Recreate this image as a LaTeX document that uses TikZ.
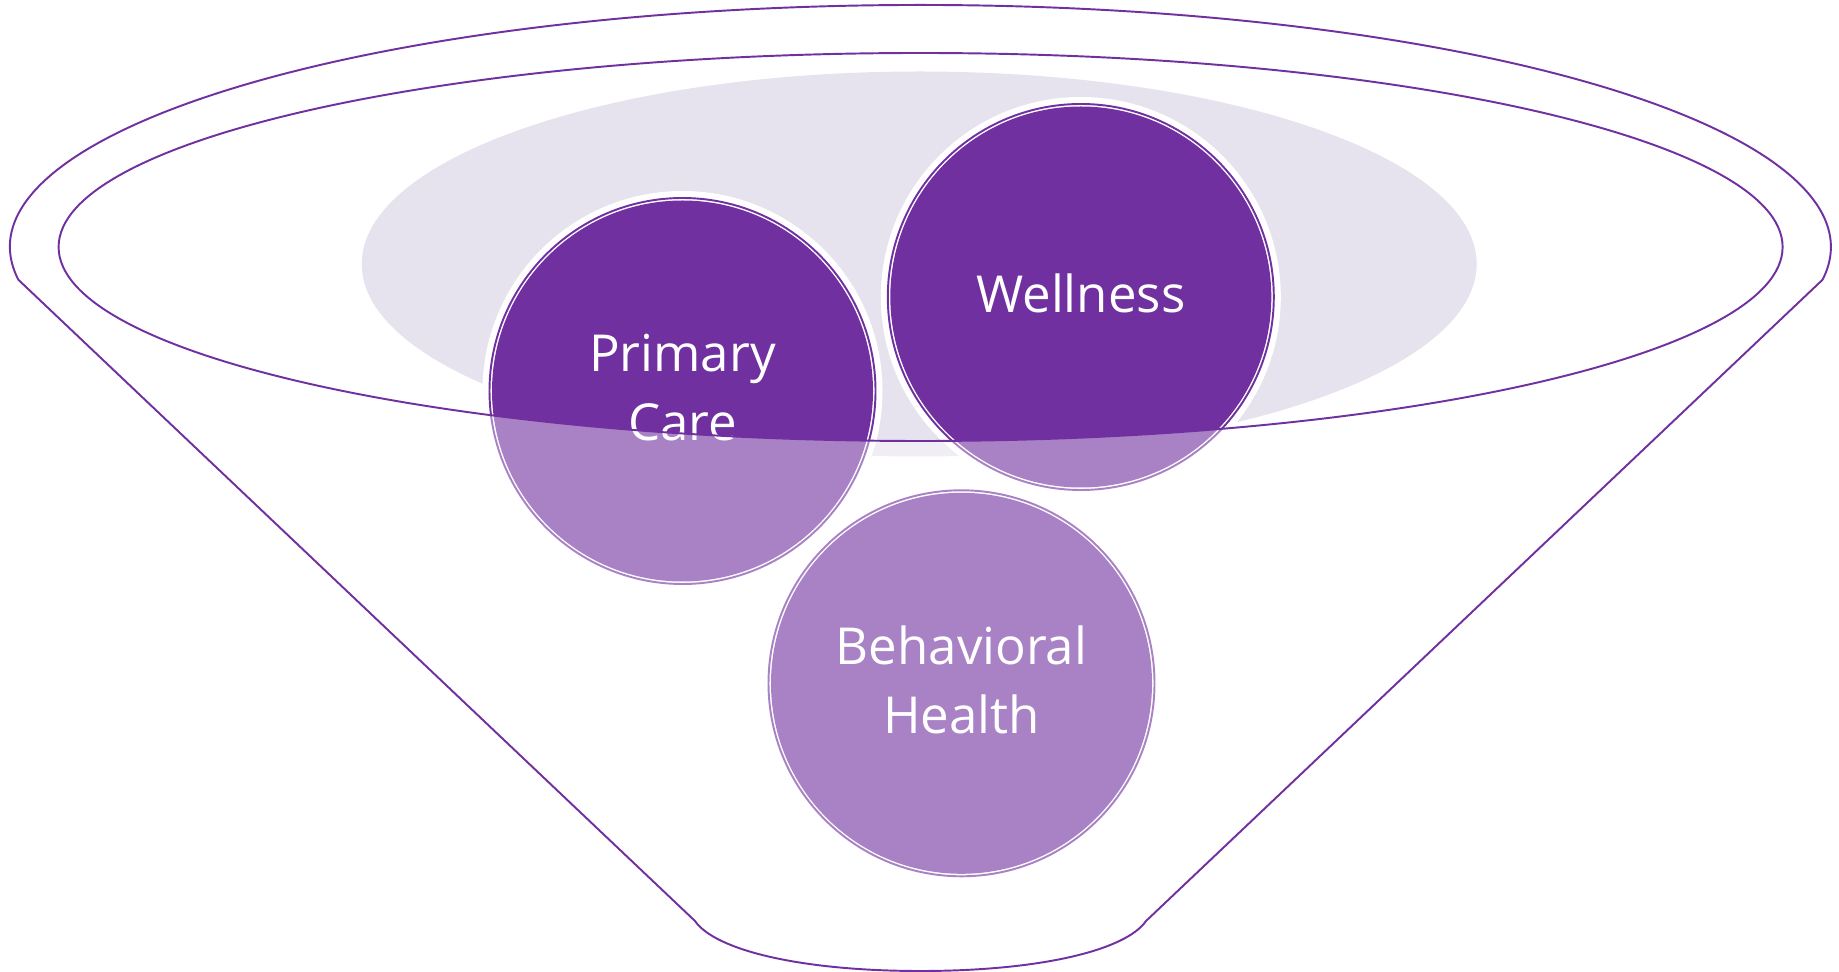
\documentclass[tikz,border=0pt]{standalone}
\usepackage{fontspec}
\setmainfont{Open Sans}
\definecolor{funnelpurple}{HTML}{7030A0}
\definecolor{rimgray}{HTML}{E6E3EE}

\begin{document}
\begin{tikzpicture}[x=0.02cm,y=-0.02cm,
    rim/.style={draw=funnelpurple,line width=1.1pt},
    halo/.style={fill=white},
    ball/.style={fill=funnelpurple},
    balledge/.style={draw=funnelpurple,line width=1.1pt,fill=white},
    glass/.style={fill=white,fill opacity=0.4,even odd rule},
    balltext/.style={text=white,align=center,font=\fontsize{29}{39}\selectfont}]
    \useasboundingbox (0,0) rectangle (1839,972);
    % funnel corners
    \coordinate (rimL) at (18.4,279.8);
    \coordinate (rimR) at (1822.6,279.8);
    \coordinate (neckL) at (695,921);
    \coordinate (neckR) at (1146,921);
    \coordinate (tip) at (920.5,971);
    % grey disc at the back
    \fill[rimgray] (919.2,264) ellipse [x radius=557.5,y radius=192.5];
    % the three balls
    \coordinate (pc) at (682.5,391);
    \coordinate (well) at (1080.8,297);
    \coordinate (bh) at (961.5,683.3);
    \foreach \c in {pc,well,bh}{
        \fill[halo] (\c) circle [radius=200];
        \draw[balledge] (\c) circle [radius=193];
        \fill[ball] (\c) circle [radius=190.5];
    }
    % glass body, everything below the inner rim
    \fill[glass] (rimL) arc [start angle=172.2,end angle=367.8,x radius=910.5,y radius=242]
        -- (neckR) .. controls (1126,950) and (1041,971) .. (tip)
        .. controls (800,971) and (715,950) .. (neckL) -- cycle
        (920.6,247) ellipse [x radius=862,y radius=194];
    % labels
    \node[balltext] (pclabel) at (682.5,387.5) {Primary\\Care};
    \node[balltext] (welllabel) at (1080.8,293.5) {Wellness};
    \node[balltext] (bhlabel) at (961.5,679.8) {Behavioral\\Health};
    % outlines
    \draw[rim] (rimL) arc [start angle=172.2,end angle=367.8,x radius=910.5,y radius=242]
        -- (neckR) .. controls (1126,950) and (1041,971) .. (tip)
        .. controls (800,971) and (715,950) .. (neckL) -- cycle;
    \draw[rim] (920.6,247) ellipse [x radius=862,y radius=194];
\end{tikzpicture}
\end{document}
